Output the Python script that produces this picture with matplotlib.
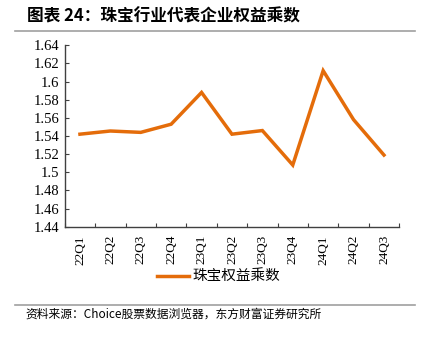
import matplotlib
matplotlib.use("Agg")
import matplotlib.pyplot as plt
from matplotlib.lines import Line2D

categories = ["22Q1", "22Q2", "22Q3", "22Q4", "23Q1", "23Q2", "23Q3", "23Q4", "24Q1", "24Q2", "24Q3"]
values = [1.542, 1.5455, 1.544, 1.553, 1.588, 1.542, 1.546, 1.508, 1.612, 1.558, 1.519]
yticks = [1.44, 1.46, 1.48, 1.50, 1.52, 1.54, 1.56, 1.58, 1.60, 1.62, 1.64]
ytick_labels = ["1.44", "1.46", "1.48", "1.5", "1.52", "1.54", "1.56", "1.58", "1.6", "1.62", "1.64"]
series_name = "珠宝权益乘数"
title = "图表 24：珠宝行业代表企业权益乘数"
source = "资料来源：Choice股票数据浏览器，东方财富证券研究所"

cjk = ["Noto Sans CJK SC", "DejaVu Sans"]
serif = ["Liberation Serif", "DejaVu Serif"]
color = "#E46C0A"

fig = plt.figure(figsize=(4.26, 3.37), dpi=100)
ax = fig.add_axes([0.152, 0.3273, 0.785, 0.5383])

x = list(range(len(categories)))
ax.plot(x, values, color=color, lw=2.5, solid_joinstyle="miter")
ax.set_xlim(-0.5, len(categories) - 0.5)
ax.set_ylim(1.44, 1.64)
ax.set_yticks(yticks)
ax.set_yticklabels(ytick_labels, family=serif, fontsize=10.5)
ax.set_xticks([i - 0.5 for i in range(len(categories) + 1)])
ax.set_xticklabels([])
ax.set_xticks(x, minor=True)
ax.set_xticklabels(categories, minor=True, rotation=90, family=serif, fontsize=9.5)
ax.tick_params(axis="x", which="minor", length=0, pad=6)
ax.tick_params(axis="x", which="major", direction="in", length=3, color="#404040")
ax.tick_params(axis="y", direction="in", length=3, color="#404040", pad=4)
for s in ["top", "right"]:
    ax.spines[s].set_visible(False)
for s in ["left", "bottom"]:
    ax.spines[s].set_color("#404040")
    ax.spines[s].set_linewidth(1.0)

fig.text(27 / 426, 1 - 16 / 337, title, family=cjk, fontsize=12, fontweight="bold", va="center", ha="left")
fig.add_artist(Line2D([15 / 426, 415 / 426], [1 - 31 / 337, 1 - 31 / 337], color="#A0A0A0", lw=1.2))
fig.add_artist(Line2D([15 / 426, 415 / 426], [1 - 305 / 337, 1 - 305 / 337], color="#A0A0A0", lw=1.2))
fig.text(25 / 426, 1 - 314 / 337, source, family=cjk, fontsize=8.5, va="center", ha="left")

fig.add_artist(Line2D([157 / 426, 189 / 426], [1 - 276 / 337, 1 - 276 / 337], color=color, lw=2.5))
fig.text(192 / 426, 1 - 276 / 337, series_name, family=cjk, fontsize=10.5, va="center", ha="left")

fig.savefig("out.png", dpi=100)
